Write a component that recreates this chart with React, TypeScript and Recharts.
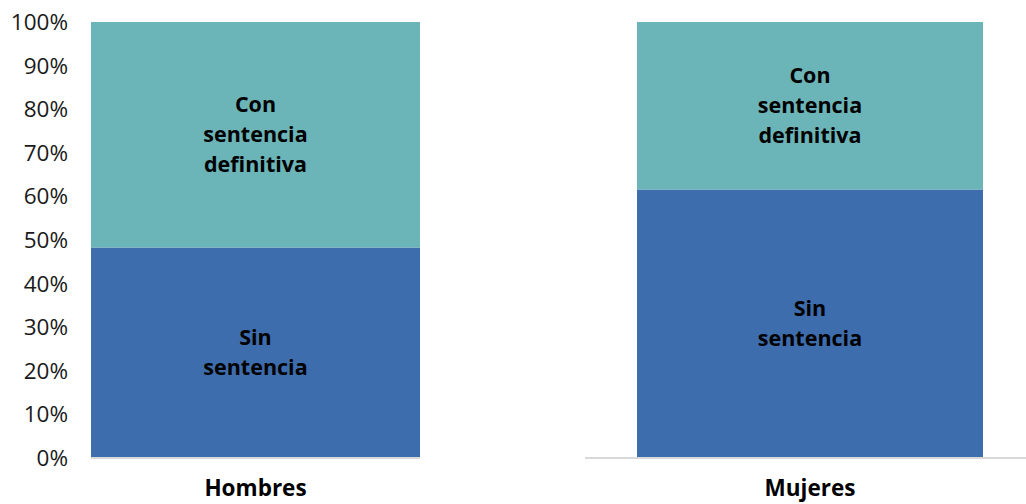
import React from 'react';
import { BarChart, Bar, XAxis, YAxis, LabelList } from 'recharts';

const categories = ['Hombres', 'Mujeres'];
const sinSentencia = [48.3, 61.6];
const conSentencia = [51.7, 38.4];
const yTicks = [0, 10, 20, 30, 40, 50, 60, 70, 80, 90, 100];
const sinLines = ['Sin', 'sentencia'];
const conLines = ['Con', 'sentencia', 'definitiva'];

const data = categories.map((c, i) => ({ name: c, sin: sinSentencia[i], con: conSentencia[i] }));

const FONT = '"Open Sans", "Noto Sans", sans-serif';
const BLUE = '#3E6DAE';
const TEAL = '#6BB5B8';

const makeLabel = (lines: string[]) => (props: any) => {
  const { x, y, width, height } = props;
  const cx = Number(x) + Number(width) / 2;
  const cy = Number(y) + Number(height) / 2;
  const lh = 30;
  const start = cy - ((lines.length - 1) * lh) / 2;
  return (
    <text textAnchor="middle" fontFamily={FONT} fontWeight={700} fontSize={21.5} fill="#000">
      {lines.map((l, i) => (
        <tspan key={i} x={cx} y={start + i * lh} dy="0.35em">
          {l}
        </tspan>
      ))}
    </text>
  );
};

const xTick = { fontFamily: FONT, fontWeight: 700, fontSize: 22.5, fill: '#000' };

export default function App() {
  return (
    <div style={{ position: 'absolute', left: 0, top: 0, width: 1026, height: 504, background: '#fff', fontFamily: FONT }}>
      <div style={{ position: 'absolute', left: 0, top: 0 }}>
        <BarChart width={420} height={504} data={data.slice(0, 1)} margin={{ top: 22, right: 0, bottom: 0, left: 0 }} barCategoryGap={0}>
          <YAxis
            domain={[0, 100]}
            ticks={yTicks}
            tickFormatter={(v: number) => `${v}%`}
            width={91}
            axisLine={false}
            tickLine={false}
            tickSize={0}
            tickMargin={23}
            interval={0}
            tick={{ fontFamily: FONT, fontSize: 22.5, fill: '#1a1a1a' }}
          />
          <XAxis
            dataKey="name"
            height={46}
            axisLine={{ stroke: '#d9d9d9', strokeWidth: 2 }}
            tickLine={false}
            tickSize={0}
            tickMargin={22}
            tick={xTick}
          />
          <Bar dataKey="sin" stackId="a" fill={BLUE} isAnimationActive={false}>
            <LabelList dataKey="sin" content={makeLabel(sinLines)} />
          </Bar>
          <Bar dataKey="con" stackId="a" fill={TEAL} isAnimationActive={false}>
            <LabelList dataKey="con" content={makeLabel(conLines)} />
          </Bar>
        </BarChart>
      </div>
      <div style={{ position: 'absolute', left: 585, top: 0 }}>
        <BarChart width={441} height={504} data={data.slice(1, 2)} margin={{ top: 22, right: 0, bottom: 0, left: 0 }} barCategoryGap={0}>
          <YAxis domain={[0, 100]} ticks={yTicks} hide />
          <XAxis
            dataKey="name"
            height={46}
            padding={{ left: 52, right: 43 }}
            axisLine={{ stroke: '#d9d9d9', strokeWidth: 2 }}
            tickLine={false}
            tickSize={0}
            tickMargin={22}
            tick={xTick}
          />
          <Bar dataKey="sin" stackId="a" fill={BLUE} isAnimationActive={false}>
            <LabelList dataKey="sin" content={makeLabel(sinLines)} />
          </Bar>
          <Bar dataKey="con" stackId="a" fill={TEAL} isAnimationActive={false}>
            <LabelList dataKey="con" content={makeLabel(conLines)} />
          </Bar>
        </BarChart>
      </div>
    </div>
  );
}
